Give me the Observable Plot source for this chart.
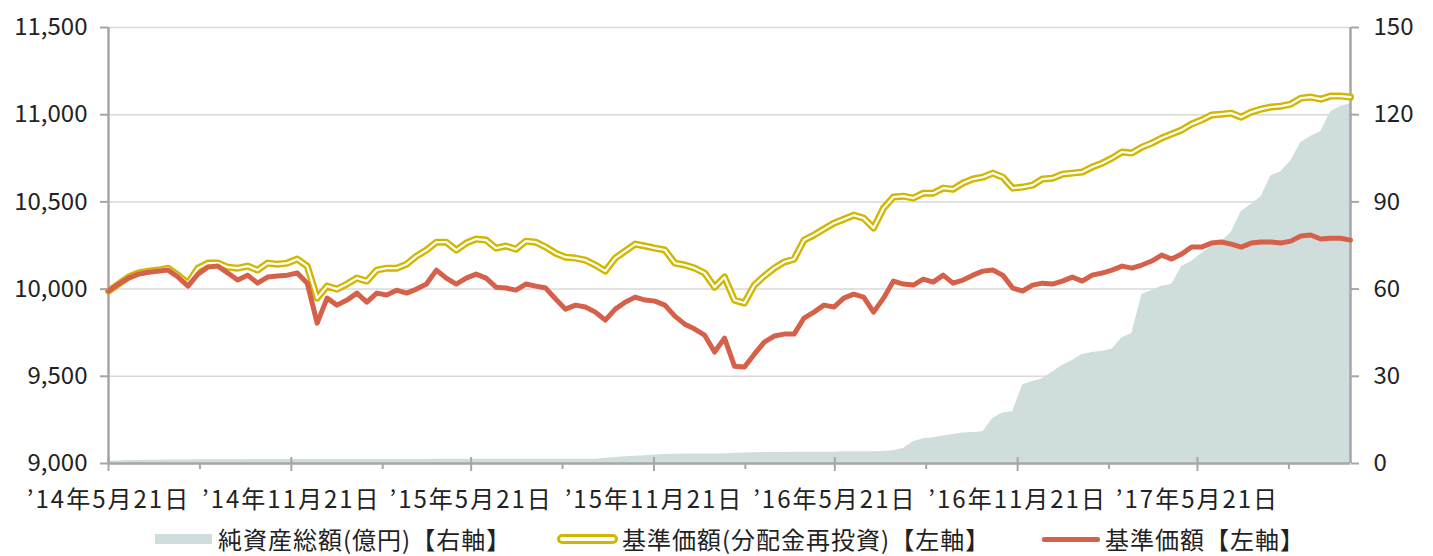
<!DOCTYPE html>
<html><head><meta charset="utf-8">
<script src="https://cdn.jsdelivr.net/npm/d3@7"></script>
<script src="https://cdn.jsdelivr.net/npm/@observablehq/plot@0.6"></script>
<style>
body{margin:0;background:#fff;font-family:"Noto Sans CJK JP","Noto Sans",sans-serif;}
#legend{position:relative;width:1433px;height:41px;font-size:24px;color:#222;}
.item{position:absolute;top:10px;display:flex;align-items:center;height:28px;line-height:28px;white-space:nowrap;letter-spacing:1px;}
.sw{display:inline-block;box-sizing:border-box;}
g[aria-label="x-axis tick label"] text{letter-spacing:2px;}
</style></head><body><div id="chart"></div><div id="legend"></div>
<script>
const startDate = "2014-05-21";
const stepDays = 10;
// 基準価額 (left axis)
const navPrice = [9989,10029,10063,10086,10097,10103,10109,10069,10017,10086,
10126,10132,10092,10052,10080,10034,10069,10075,10080,10092,
10034,9805,9948,9908,9937,9977,9925,9977,9966,9994,
9977,10000,10029,10109,10063,10029,10063,10086,10063,10011,
10006,9994,10029,10017,10006,9943,9885,9908,9897,9868,
9822,9885,9925,9954,9937,9931,9908,9845,9799,9771,
9736,9639,9719,9558,9553,9627,9696,9731,9742,9742,
9834,9868,9908,9897,9948,9971,9954,9868,9948,10046,
10029,10023,10057,10040,10080,10034,10052,10080,10103,10109,
10080,10006,9989,10023,10034,10029,10046,10069,10046,10080,
10092,10109,10132,10120,10138,10161,10195,10172,10201,10241,
10241,10264,10270,10258,10241,10264,10270,10270,10264,10275,
10304,10310,10287,10292,10292,10281];
// 基準価額(分配金再投資) (left axis)
const navReinvest = [9989,10029,10069,10092,10103,10109,10120,10080,10034,10120,
10149,10149,10126,10120,10132,10109,10149,10143,10149,10172,
10132,9948,10017,10000,10029,10063,10046,10109,10120,10120,
10143,10189,10224,10269,10269,10224,10264,10287,10281,10235,
10247,10229,10275,10269,10241,10206,10183,10178,10166,10138,
10103,10178,10218,10258,10247,10235,10224,10149,10138,10120,
10092,10011,10069,9937,9920,10023,10075,10120,10155,10172,
10281,10310,10344,10378,10401,10424,10407,10350,10464,10528,
10533,10522,10550,10550,10579,10573,10608,10631,10642,10665,
10642,10579,10585,10596,10631,10636,10659,10665,10671,10700,
10722,10751,10786,10780,10814,10837,10866,10889,10912,10946,
10969,10998,11003,11009,10986,11015,11032,11044,11049,11061,
11095,11101,11089,11107,11107,11101];
// 純資産総額(億円) (right axis)
const netAssets = [0.8,0.9,1.0,1.0,1.1,1.1,1.2,1.2,1.2,1.3,
1.3,1.3,1.3,1.3,1.4,1.4,1.4,1.4,1.4,1.4,
1.4,1.4,1.4,1.4,1.4,1.4,1.4,1.4,1.4,1.4,
1.4,1.4,1.4,1.5,1.5,1.5,1.5,1.5,1.5,1.5,
1.5,1.5,1.5,1.5,1.5,1.5,1.5,1.5,1.5,1.5,
1.8,2.1,2.3,2.5,2.7,2.9,3.1,3.2,3.3,3.3,
3.3,3.3,3.3,3.5,3.6,3.7,3.8,3.8,3.8,3.9,
3.9,3.9,3.9,3.9,4.0,4.0,4.0,4.0,4.1,4.4,
5.2,7.5,8.5,8.9,9.5,10.0,10.5,10.7,10.9,15.5,
17.4,17.8,27.0,28.2,29.2,31.5,33.7,35.4,37.5,38.2,
38.6,39.3,43.3,44.7,58.1,59.5,61.0,61.6,67.8,69.5,
72.2,74.6,76.4,79.5,86.7,89.1,91.8,99.0,100.4,104.2,
110.4,112.5,114.2,121.0,122.8,123.8];
const majorTicks = ["2014-05-21","2014-11-21","2015-05-21","2015-11-21","2016-05-21","2016-11-21","2017-05-21"];
const minorTicks = ["2014-08-21","2015-02-21","2015-08-21","2016-02-21","2016-08-21","2017-02-21","2017-08-21"];
const leftTicks = [9000,9500,10000,10500,11000,11500];
const rightTicks = [0,30,60,90,120,150];
const legendLabels = ["純資産総額(億円)【右軸】","基準価額(分配金再投資)【左軸】","基準価額【左軸】"];

const C = {area:"#d0dddd", gold:"#d2b700", red:"#d5614a", axis:"#a6a6a6", grid:"#d9d9d9", text:"#222"};
const yMin = 9000, yMax = 11500, rMax = 150;
const toLeft = a => yMin + a * (yMax - yMin) / rMax;
const fromLeft = v => Math.round((v - yMin) * rMax / (yMax - yMin));
const start = new Date(startDate);
const data = navPrice.map((p, i) => ({
  date: d3.utcDay.offset(start, i * stepDays),
  price: p, reinvest: navReinvest[i], assets: netAssets[i]
}));
const x0 = data[0].date, x1 = data[data.length - 1].date;
const fmtDate = d => `’${String(d.getUTCFullYear()).slice(2)}年${d.getUTCMonth()+1}月${d.getUTCDate()}日`;
const major = majorTicks.map(s => new Date(s));
const minor = minorTicks.map(s => new Date(s));

const chart = Plot.plot({
  width: 1433, height: 515,
  marginLeft: 108, marginRight: 83, marginTop: 27, marginBottom: 52,
  style: {fontFamily: '"Noto Sans CJK JP","Noto Sans",sans-serif', fontSize: "24px", color: C.text, background: "#fff"},
  x: {type: "utc", domain: [x0, x1]},
  y: {domain: [yMin, yMax]},
  marks: [
    Plot.gridY(leftTicks.slice(1), {stroke: C.grid, strokeOpacity: 1, strokeWidth: 1.5}),
    Plot.areaY(data, {x: "date", y1: yMin, y2: d => toLeft(d.assets), fill: C.area}),
    Plot.ruleY([yMin], {stroke: C.axis, strokeWidth: 2.5}),
    Plot.ruleX([x0, x1], {stroke: C.axis, strokeWidth: 2.5}),
    Plot.lineY(data, {x: "date", y: "reinvest", stroke: C.gold, strokeWidth: 7, strokeLinejoin: "round"}),
    Plot.lineY(data, {x: "date", y: "reinvest", stroke: "#fff", strokeWidth: 2.2, strokeLinejoin: "round"}),
    Plot.lineY(data, {x: "date", y: "price", stroke: C.red, strokeWidth: 5, strokeLinejoin: "round"}),
    Plot.axisY(leftTicks, {anchor: "left", tickSize: 8, tickPadding: 13, tickFormat: d3.format(","), stroke: C.axis, strokeWidth: 2, fill: C.text, label: null}),
    Plot.axisY(rightTicks.map(toLeft), {anchor: "right", tickSize: 8, tickPadding: 15, tickFormat: v => String(fromLeft(v)), stroke: C.axis, strokeWidth: 2, fill: C.text, label: null}),
    Plot.axisX(major, {tickSize: 14, dy: -6, tickFormat: () => "", stroke: C.axis, strokeWidth: 2, label: null}),
    Plot.axisX(minor, {tickSize: 6, tickFormat: () => "", stroke: C.axis, strokeWidth: 2, label: null}),
    Plot.axisX(major, {tickSize: 0, tickPadding: 27, tickFormat: fmtDate, fill: C.text, label: null})
  ]
});
document.getElementById("chart").append(chart);

const lg = document.getElementById("legend");
const items = [
  {left: 155, sw: `<span class="sw" style="width:57px;height:10px;background:${C.area}"></span>`, gap: 6},
  {left: 557, sw: `<span class="sw" style="width:61px;height:10px;border:3px solid ${C.gold};border-radius:5px;background:#fff"></span>`, gap: 4},
  {left: 1042, sw: `<span class="sw" style="width:58px;height:5px;background:${C.red};border-radius:2px"></span>`, gap: 5}
];
items.forEach((it, i) => {
  const d = document.createElement("div");
  d.className = "item";
  d.style.left = it.left + "px";
  d.innerHTML = it.sw + `<span style="margin-left:${it.gap}px">${legendLabels[i]}</span>`;
  lg.append(d);
});
</script></body></html>
